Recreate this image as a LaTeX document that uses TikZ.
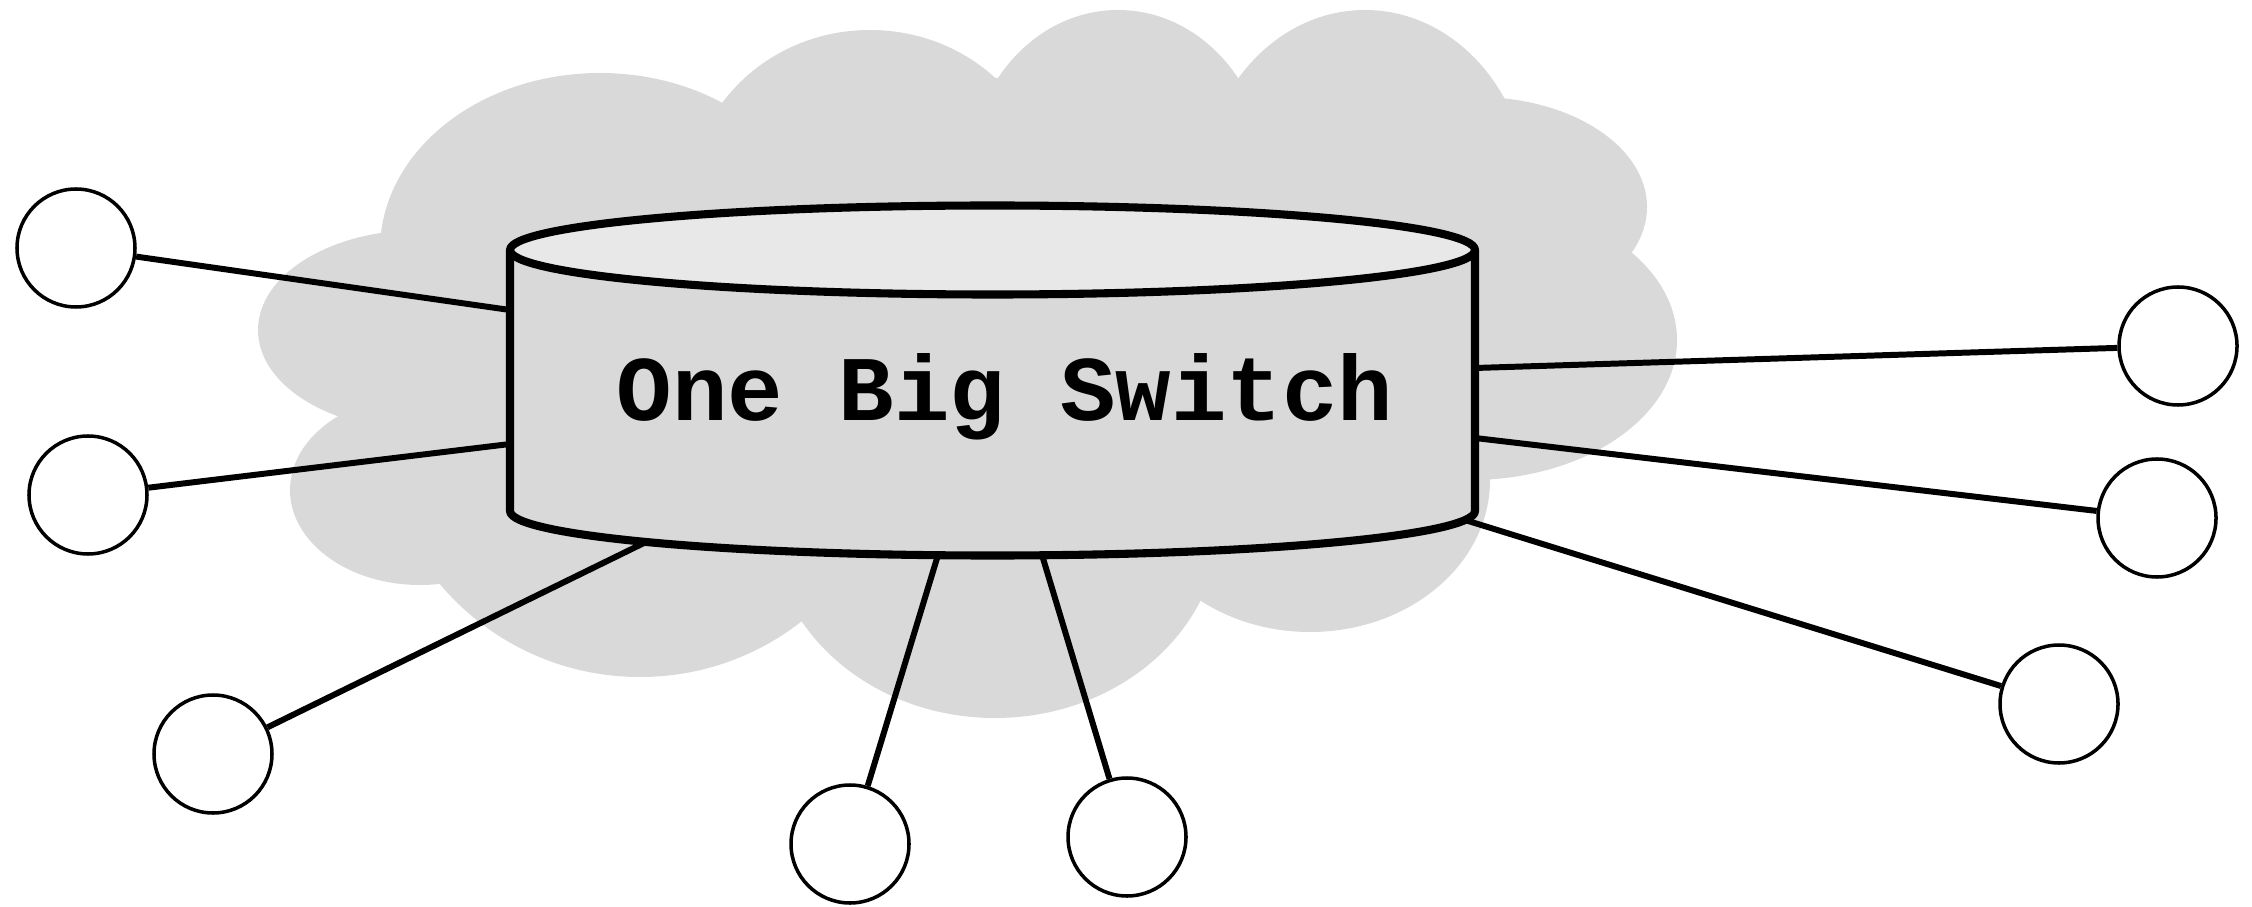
\documentclass[tikz,border=0pt]{standalone}
\usepackage{fontspec}
\newfontfamily\switchfont{Liberation Mono}
\usetikzlibrary{calc}
\definecolor{ObsCloud}{RGB}{217,217,217}
\definecolor{ObsBody}{RGB}{217,217,217}
\definecolor{ObsTop}{RGB}{232,232,232}
\tikzset{
  obs/host/.style={
    circle,
    draw=black,
    line width=1pt,
    fill=white,
    minimum size=1.18cm,
    inner sep=0pt
  },
  obs/link/.style={line width=1.7pt, draw=black},
  obs/outline/.style={line width=2.3pt, draw=black, line join=round},
  obs/puff/.style={fill=ObsCloud},
  obs/label/.style={font=\switchfont\bfseries\fontsize{26.3}{30}\selectfont, text=black}
}

\begin{document}
\begin{tikzpicture}[x=1cm,y=1cm]
  \useasboundingbox (0,0) rectangle (22.52,9.06);
  % cloud behind the switch
  \foreach \cx/\cy/\rx/\ry in {6.00/6.56/2.20/1.77, 8.70/7.06/1.80/1.70, 11.18/7.26/1.50/1.70,
      13.65/7.06/1.65/1.90, 14.77/6.99/1.70/1.10, 14.70/5.66/2.07/1.40, 13.10/4.26/1.80/1.52,
      9.95/3.86/2.25/1.98, 6.40/4.86/2.60/2.57, 4.20/4.16/1.30/0.95, 4.20/5.76/1.62/1.00}{
    \fill[obs/puff] (\cx,\cy) ellipse[x radius=\rx, y radius=\ry];}
  \fill[obs/puff] (4.00,6.55) -- (7.25,8.00) -- (9.96,8.28) -- (12.35,8.25) -- (15.05,7.95)
    -- (16.15,6.45) -- (14.75,4.30) -- (11.95,3.08) -- (8.05,2.85) -- (4.60,3.38) -- (3.45,4.93) -- cycle;

  % ports on the switch
  \coordinate (p1) at (5.10,5.96);
  \coordinate (p2) at (5.10,4.62);
  \coordinate (p3) at (6.46,3.64);
  \coordinate (p4) at (9.38,3.51);
  \coordinate (p5) at (10.42,3.51);
  \coordinate (p6) at (14.75,5.38);
  \coordinate (p7) at (14.75,4.68);
  \coordinate (p8) at (14.65,3.86);

  \foreach \n/\x/\y in {1/0.76/6.58, 2/0.88/4.11, 3/2.13/1.52, 4/8.50/0.62,
      5/11.27/0.69, 6/21.78/5.60, 7/21.57/3.88, 8/20.59/2.02}{
    \node[obs/host] (h\n) at (\x,\y) {};}
  \foreach \n in {1,...,8}{\draw[obs/link] (h\n) -- (p\n);}

  % the switch itself
  \coordinate (obsTop) at (9.925,6.56);
  \fill[ObsBody] (5.10,6.56) -- (5.10,3.95) arc[start angle=180, end angle=360, x radius=4.825, y radius=0.445] -- (14.75,6.56) -- cycle;
  \draw[obs/outline] (5.10,6.56) -- (5.10,3.95) arc[start angle=180, end angle=360, x radius=4.825, y radius=0.445] -- (14.75,6.56);
  \draw[obs/outline, fill=ObsTop] (obsTop) ellipse[x radius=4.825, y radius=0.445];
  \node[obs/label, anchor=base] (switch) at (10.05,4.85) {One Big Switch};
\end{tikzpicture}
\end{document}
